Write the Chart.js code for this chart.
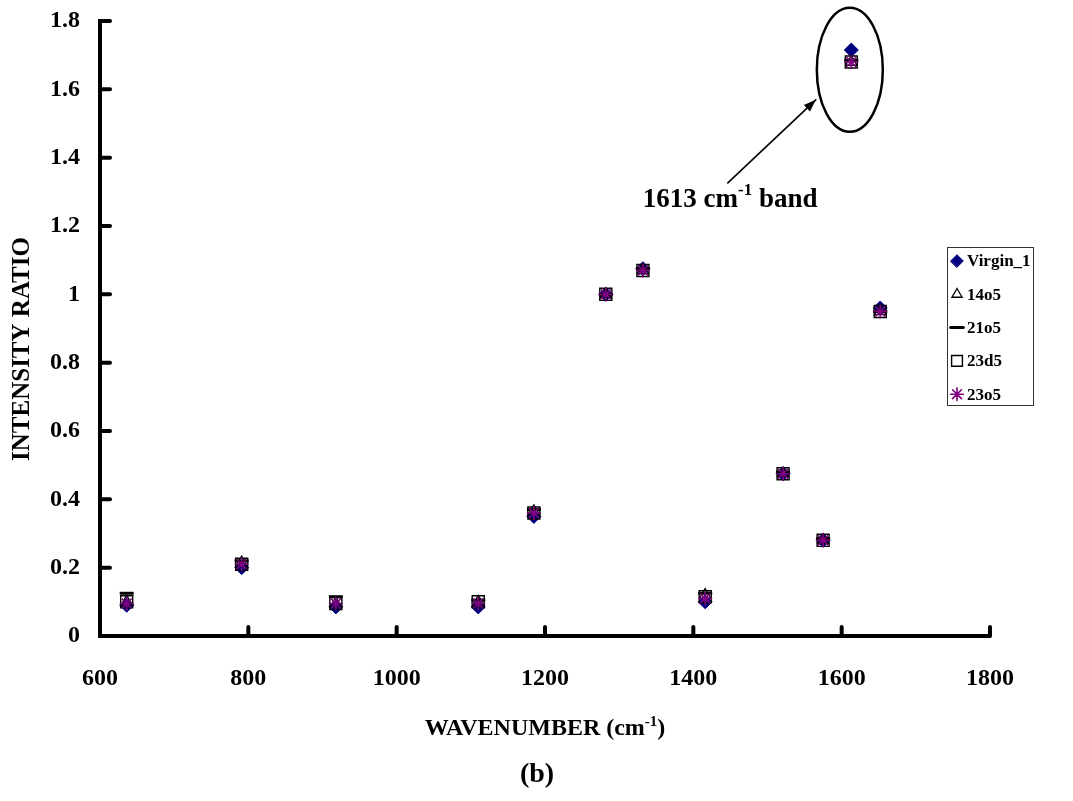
<!DOCTYPE html>
<html>
<head>
<meta charset="utf-8">
<script src="https://cdn.jsdelivr.net/npm/chart.js@4"></script>
<style>
  html, body { margin: 0; padding: 0; background: #fff; }
  #wrap { width: 1073px; height: 801px; }
</style>
</head>
<body>
<div id="wrap"><canvas id="ramanChart"></canvas></div>
<script>
// =========================================
// Data
// =========================================

const wavenumbers = [636, 791, 918, 1110, 1185, 1282, 1332, 1416, 1521, 1575, 1613, 1652];

const virgin1 = [0.09, 0.20, 0.085, 0.085, 0.35, 1.0, 1.075, 0.10, 0.475, 0.28, 1.715, 0.96];
const s14o5   = [0.10, 0.215, 0.095, 0.10, 0.365, 1.0, 1.07, 0.12, 0.475, 0.28, 1.68, 0.95];
const s21o5   = [0.125, 0.22, 0.115, 0.105, 0.37, 1.0, 1.075, 0.125, 0.48, 0.285, 1.685, 0.95];
const s23d5   = [0.10, 0.21, 0.095, 0.10, 0.36, 1.0, 1.07, 0.115, 0.475, 0.28, 1.68, 0.95];
const s23o5   = [0.095, 0.21, 0.095, 0.095, 0.36, 1.0, 1.07, 0.11, 0.475, 0.28, 1.68, 0.95];

const seriesNames = ["Virgin_1", "14o5", "21o5", "23d5", "23o5"];

const xTicks = [600, 800, 1000, 1200, 1400, 1600, 1800];
const yTicks = [0, 0.2, 0.4, 0.6, 0.8, 1, 1.2, 1.4, 1.6, 1.8];

const FONT = "'Liberation Serif', 'Times New Roman', serif";

function toPoints(values) {
    return values.map((v, i) => ({ x: wavenumbers[i], y: v }));
}

// =========================================
// Extra drawing: inner ticks, titles, legend, annotation
// =========================================

function drawSupText(ctx, parts, x, y, size, supSize, rise) {
    // parts: [text, isSup] ... drawn left to right from x
    let cx = x;
    parts.forEach(([text, sup]) => {
        ctx.font = "bold " + (sup ? supSize : size) + "px " + FONT;
        ctx.fillText(text, cx, sup ? y - rise : y);
        cx += ctx.measureText(text).width;
    });
}

function measureSupText(ctx, parts, size, supSize) {
    let w = 0;
    parts.forEach(([text, sup]) => {
        ctx.font = "bold " + (sup ? supSize : size) + "px " + FONT;
        w += ctx.measureText(text).width;
    });
    return w;
}

const decorPlugin = {
    id: "decor",
    afterDraw(chart) {
        const ctx = chart.ctx;
        const area = chart.chartArea;
        const xs = chart.scales.x;
        const ys = chart.scales.y;

        ctx.save();

        // inward tick marks
        ctx.strokeStyle = "#000";
        ctx.lineWidth = 4;
        ctx.lineCap = "round";
        xs.ticks.forEach((t, i) => {
            if (i === 0) return;
            const px = xs.getPixelForTick(i);
            ctx.beginPath();
            ctx.moveTo(px, area.bottom);
            ctx.lineTo(px, area.bottom - 9);
            ctx.stroke();
        });
        ys.ticks.forEach((t, i) => {
            if (i === 0) return;
            const py = ys.getPixelForTick(i);
            ctx.beginPath();
            ctx.moveTo(area.left, py);
            ctx.lineTo(area.left + 10, py);
            ctx.stroke();
        });

        // x axis title with superscript
        ctx.fillStyle = "#000";
        ctx.textBaseline = "alphabetic";
        ctx.textAlign = "left";
        const xTitle = [["WAVENUMBER (cm", false], ["-1", true], [")", false]];
        const tw = measureSupText(ctx, xTitle, 24, 15);
        drawSupText(ctx, xTitle, (area.left + area.right) / 2 - tw / 2, 735, 24, 15, 9);

        // y axis title
        ctx.save();
        ctx.translate(23, 349);
        ctx.rotate(-Math.PI / 2);
        ctx.font = "bold 25px " + FONT;
        ctx.textAlign = "center";
        ctx.textBaseline = "middle";
        ctx.fillText("INTENSITY RATIO", 0, 0);
        ctx.restore();

        // figure label
        ctx.font = "bold 28px " + FONT;
        ctx.textAlign = "center";
        ctx.fillText("(b)", 537, 782);
        ctx.textAlign = "left";

        // annotation around the 1613 band
        const ex = xs.getPixelForValue(1611);
        const ey = ys.getPixelForValue(1.657);
        ctx.lineWidth = 2.5;
        ctx.beginPath();
        ctx.ellipse(ex, ey, 33, 62, 0, 0, Math.PI * 2);
        ctx.stroke();

        const ax0 = ex - 122, ay0 = ey + 113;
        const ax1 = ex - 34, ay1 = ey + 30;
        ctx.lineWidth = 1.6;
        ctx.beginPath();
        ctx.moveTo(ax0, ay0);
        ctx.lineTo(ax1, ay1);
        ctx.stroke();
        const ang = Math.atan2(ay1 - ay0, ax1 - ax0);
        ctx.beginPath();
        ctx.moveTo(ax1, ay1);
        ctx.lineTo(ax1 - 13 * Math.cos(ang - 0.35), ay1 - 13 * Math.sin(ang - 0.35));
        ctx.lineTo(ax1 - 13 * Math.cos(ang + 0.35), ay1 - 13 * Math.sin(ang + 0.35));
        ctx.closePath();
        ctx.fill();

        drawSupText(ctx, [["1613 cm", false], ["-1", true], [" band", false]],
            ex - 207, ey + 137, 27, 17, 12);

        // legend box
        const bx = area.right - 43;
        const by = area.top + 226;
        const bw = 86;
        const bh = 158;
        ctx.fillStyle = "#fff";
        ctx.fillRect(bx, by, bw, bh);
        ctx.strokeStyle = "#333";
        ctx.lineWidth = 1;
        ctx.strokeRect(bx + 0.5, by + 0.5, bw, bh);

        ctx.font = "bold 17px " + FONT;
        ctx.textBaseline = "middle";
        chart.data.datasets.forEach((ds, i) => {
            const rowY = by + 14 + i * 33.3;
            ctx.save();
            ctx.fillStyle = ds.backgroundColor;
            ctx.strokeStyle = ds.borderColor;
            ctx.lineWidth = ds.borderWidth;
            if (Chart.helpers && Chart.helpers.drawPoint) {
                Chart.helpers.drawPoint(ctx, {
                    pointStyle: ds.pointStyle,
                    radius: ds.pointRadius * 0.9,
                    rotation: 0,
                    borderWidth: ds.borderWidth
                }, bx + 10, rowY);
            }
            ctx.restore();
            ctx.fillStyle = "#000";
            ctx.font = "bold 17px " + FONT;
            ctx.fillText(ds.label, bx + 20, rowY + 1);
        });

        ctx.restore();
    }
};

// =========================================
// Scatter chart
// =========================================

const ramanCanvas =
    document.getElementById("ramanChart");

if (ramanCanvas) {

    new Chart(ramanCanvas, {

        type: "scatter",

        data: {

            datasets: [
                {
                    label: seriesNames[0],
                    data: toPoints(virgin1),
                    pointStyle: "rectRot",
                    pointRadius: 7,
                    backgroundColor: "#000080",
                    borderColor: "#000080",
                    borderWidth: 1,
                    order: 5
                },
                {
                    label: seriesNames[1],
                    data: toPoints(s14o5),
                    pointStyle: "triangle",
                    pointRadius: 6.5,
                    backgroundColor: "rgba(0,0,0,0)",
                    borderColor: "#000",
                    borderWidth: 1.3,
                    order: 4
                },
                {
                    label: seriesNames[2],
                    data: toPoints(s21o5),
                    pointStyle: "line",
                    pointRadius: 7,
                    backgroundColor: "#000",
                    borderColor: "#000",
                    borderWidth: 3,
                    order: 3
                },
                {
                    label: seriesNames[3],
                    data: toPoints(s23d5),
                    pointStyle: "rect",
                    pointRadius: 8.5,
                    backgroundColor: "rgba(0,0,0,0)",
                    borderColor: "#000",
                    borderWidth: 1.4,
                    order: 2
                },
                {
                    label: seriesNames[4],
                    data: toPoints(s23o5),
                    pointStyle: "star",
                    pointRadius: 7,
                    backgroundColor: "#800080",
                    borderColor: "#800080",
                    borderWidth: 1.6,
                    order: 1
                }
            ]
        },

        options: {

            responsive: true,
            maintainAspectRatio: false,
            animation: false,

            layout: {
                padding: { top: 21, right: 83, left: 0, bottom: 0 }
            },

            scales: {

                x: {
                    type: "linear",
                    min: 600,
                    max: 1800,
                    afterBuildTicks(scale) {
                        scale.ticks = xTicks.map(v => ({ value: v }));
                    },
                    afterFit(scale) {
                        scale.height = 165;
                    },
                    grid: {
                        display: true,
                        drawOnChartArea: false,
                        drawTicks: false
                    },
                    border: { color: "#000", width: 4 },
                    ticks: {
                        color: "#000",
                        padding: 28,
                        maxRotation: 0,
                        callback: (v) => String(v),
                        font: { family: FONT, size: 24, weight: "bold" }
                    }
                },

                y: {
                    min: 0,
                    max: 1.8,
                    afterBuildTicks(scale) {
                        scale.ticks = yTicks.map(v => ({ value: v }));
                    },
                    afterFit(scale) {
                        scale.width = 100;
                        scale.paddingTop = 0;
                        scale.paddingBottom = 0;
                    },
                    grid: {
                        display: true,
                        drawOnChartArea: false,
                        drawTicks: false
                    },
                    border: { color: "#000", width: 4 },
                    ticks: {
                        color: "#000",
                        padding: 20,
                        callback: (v) => String(v),
                        font: { family: FONT, size: 24, weight: "bold" }
                    }
                }
            },

            plugins: {

                legend: { display: false },

                tooltip: { enabled: false },

                title: { display: false }
            }
        },

        plugins: [decorPlugin]
    });
}
</script>
</body>
</html>
